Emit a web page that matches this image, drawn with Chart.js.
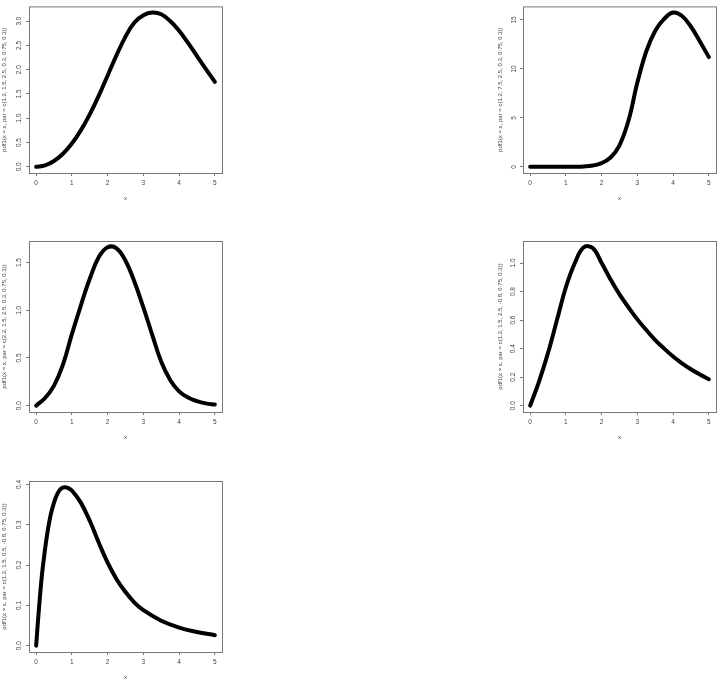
<!DOCTYPE html>
<html>
<head>
<meta charset="utf-8">
<title>pdf1 curves</title>
<script src="https://cdn.jsdelivr.net/npm/chart.js@4"></script>
<style>
  body { margin: 0; background: #fff; }
  #page { position: relative; width: 720px; height: 681px; overflow: hidden; }
  canvas { position: absolute; }
</style>
</head>
<body>
<div id="page">
  <canvas id="c1" width="240" height="227" style="left:0;top:0"></canvas>
  <canvas id="c2" width="240" height="227" style="left:480px;top:0"></canvas>
  <canvas id="c3" width="240" height="227" style="left:0;top:227px"></canvas>
  <canvas id="c4" width="240" height="227" style="left:480px;top:227px"></canvas>
  <canvas id="c5" width="240" height="227" style="left:0;top:454px"></canvas>
</div>
<script>
// x ticks shared by every panel
const xTicks = [0, 1, 2, 3, 4, 5];

// panel 1: par = c(1.2, 1.5, 2.5, 0.3, 0.75, 0.3)
const x1 = [0, 0.25, 0.5, 0.75, 1, 1.25, 1.5, 1.75, 2, 2.25, 2.5, 2.75, 3, 3.25, 3.5, 3.75, 4, 4.25, 4.5, 4.75, 5];
const y1 = [0, 0.03, 0.12, 0.27, 0.48, 0.75, 1.08, 1.46, 1.88, 2.3, 2.68, 2.97, 3.12, 3.175, 3.14, 3.0, 2.8, 2.55, 2.28, 2.01, 1.75];
const yTicks1 = [0, 0.5, 1, 1.5, 2, 2.5, 3];
const yLabels1 = ['0.0', '0.5', '1.0', '1.5', '2.0', '2.5', '3.0'];

// panel 2: par = c(1.2, 7.5, 2.5, 0.3, 0.75, 0.3)
const x2 = [0, 0.5, 1, 1.25, 1.5, 1.75, 2, 2.25, 2.5, 2.75, 3, 3.25, 3.5, 3.75, 4, 4.25, 4.5, 4.75, 5];
const y2 = [0, 0, 0, 0.01, 0.04, 0.13, 0.38, 0.95, 2.2, 4.7, 8.6, 11.8, 13.9, 15.1, 15.75, 15.4, 14.3, 12.8, 11.2];
const yTicks2 = [0, 5, 10, 15];
const yLabels2 = ['0', '5', '10', '15'];

// panel 3: par = c(2.2, 1.5, 2.5, 0.3, 0.75, 0.3)
const x3 = [0, 0.25, 0.5, 0.75, 1, 1.25, 1.5, 1.75, 2, 2.25, 2.5, 2.75, 3, 3.25, 3.5, 3.75, 4, 4.25, 4.5, 4.75, 5];
const y3 = [0, 0.08, 0.21, 0.43, 0.75, 1.05, 1.33, 1.555, 1.66, 1.65, 1.52, 1.3, 1.03, 0.74, 0.46, 0.27, 0.15, 0.085, 0.047, 0.024, 0.012];
const yTicks3 = [0, 0.5, 1, 1.5];
const yLabels3 = ['0.0', '0.5', '1.0', '1.5'];

// panel 4: par = c(1.2, 1.5, 2.5, -0.8, 0.75, 0.3)
const x4 = [0, 0.25, 0.5, 0.75, 1, 1.25, 1.5, 1.75, 2, 2.25, 2.5, 2.75, 3, 3.25, 3.5, 3.75, 4, 4.25, 4.5, 4.75, 5];
const y4 = [0, 0.17, 0.37, 0.6, 0.83, 1.0, 1.11, 1.105, 1.0, 0.885, 0.78, 0.69, 0.605, 0.53, 0.46, 0.4, 0.345, 0.297, 0.255, 0.218, 0.185];
const yTicks4 = [0, 0.2, 0.4, 0.6, 0.8, 1.0];
const yLabels4 = ['0.0', '0.2', '0.4', '0.6', '0.8', '1.0'];

// panel 5: par = c(1.2, 1.5, 0.5, -0.8, 0.75, 0.3)
const x5 = [0, 0.05, 0.1, 0.15, 0.2, 0.3, 0.4, 0.5, 0.6, 0.7, 0.8, 0.9, 1, 1.25, 1.5, 1.75, 2, 2.25, 2.5, 2.75, 3, 3.5, 4, 4.5, 5];
const y5 = [0, 0.06, 0.115, 0.165, 0.205, 0.272, 0.322, 0.355, 0.378, 0.39, 0.393, 0.391, 0.385, 0.355, 0.31, 0.256, 0.206, 0.165, 0.133, 0.107, 0.088, 0.062, 0.045, 0.034, 0.026];
const yTicks5 = [0, 0.1, 0.2, 0.3, 0.4];
const yLabels5 = ['0.0', '0.1', '0.2', '0.3', '0.4'];

const ink = '#444';
const frame = '#777';
const font = { family: 'Liberation Sans, Arial, sans-serif', size: 6.5 };
const titleFont = { family: 'Liberation Sans, Arial, sans-serif', size: 6 };

// R style box round the plot region
const boxPlugin = {
  id: 'rbox',
  afterDraw(chart) {
    const a = chart.chartArea;
    const ctx = chart.ctx;
    ctx.save();
    ctx.strokeStyle = frame;
    ctx.lineWidth = 1;
    ctx.strokeRect(a.left + 0.5, a.top + 0.5, a.right - a.left, a.bottom - a.top);
    ctx.restore();
  }
};

function makePanel(id, xs, ys, yTicks, yLabels, yTitle, lay) {
  const ymax = Math.max(...ys);
  new Chart(document.getElementById(id), {
    type: 'line',
    data: {
      datasets: [{
        data: xs.map((x, i) => ({ x: x, y: ys[i] })),
        borderColor: '#000',
        borderWidth: 4,
        borderCapStyle: 'round',
        borderJoinStyle: 'round',
        pointRadius: 0,
        tension: 0.4,
        fill: false
      }]
    },
    options: {
      responsive: false,
      animation: false,
      events: [],
      layout: { padding: { left: 0, top: lay.top, right: lay.right, bottom: lay.bottom } },
      plugins: { legend: { display: false }, tooltip: { enabled: false } },
      scales: {
        x: {
          type: 'linear',
          min: -0.2,
          max: 5.2,
          afterBuildTicks: s => { s.ticks = xTicks.map(v => ({ value: v })); },
          afterFit: s => { s.height = 29; },
          grid: { drawOnChartArea: false, tickLength: 3, color: frame },
          border: { display: false },
          ticks: { font: font, color: ink, padding: 3, maxRotation: 0, autoSkip: false, callback: v => String(v) },
          title: { display: true, text: 'x', font: titleFont, color: ink, padding: { top: 0, bottom: 0.4 } }
        },
        y: {
          type: 'linear',
          min: -0.04 * ymax,
          max: 1.04 * ymax,
          afterBuildTicks: s => { s.ticks = yTicks.map(v => ({ value: v })); },
          afterFit: s => { s.width = lay.yW; },
          grid: { drawOnChartArea: false, tickLength: 3, color: frame },
          border: { display: false },
          ticks: {
            font: font, color: ink, padding: 2.5, autoSkip: false,
            minRotation: 90, maxRotation: 90, crossAlign: 'center',
            callback: (v, i) => yLabels[i]
          },
          title: { display: true, text: yTitle, font: titleFont, color: ink, padding: { top: lay.titleX - 3.6, bottom: 0 } }
        }
      }
    },
    plugins: [boxPlugin]
  });
}

makePanel('c1', x1, y1, yTicks1, yLabels1, 'pdf1(x = x, par = c(1.2, 1.5, 2.5, 0.3, 0.75, 0.3))',
  { yW: 29, top: 1, right: 18, bottom: 25, titleX: 4.5 });
makePanel('c2', x2, y2, yTicks2, yLabels2, 'pdf1(x = x, par = c(1.2, 7.5, 2.5, 0.3, 0.75, 0.3))',
  { yW: 43, top: 1, right: 4, bottom: 25, titleX: 20 });
makePanel('c3', x3, y3, yTicks3, yLabels3, 'pdf1(x = x, par = c(2.2, 1.5, 2.5, 0.3, 0.75, 0.3))',
  { yW: 29, top: 14, right: 18, bottom: 13, titleX: 4.5 });
makePanel('c4', x4, y4, yTicks4, yLabels4, 'pdf1(x = x, par = c(1.2, 1.5, 2.5, -0.8, 0.75, 0.3))',
  { yW: 43, top: 14, right: 4, bottom: 13, titleX: 20 });
makePanel('c5', x5, y5, yTicks5, yLabels5, 'pdf1(x = x, par = c(1.2, 1.5, 0.5, -0.8, 0.75, 0.3))',
  { yW: 29, top: 27, right: 18, bottom: 0, titleX: 4.5 });
</script>
</body>
</html>
